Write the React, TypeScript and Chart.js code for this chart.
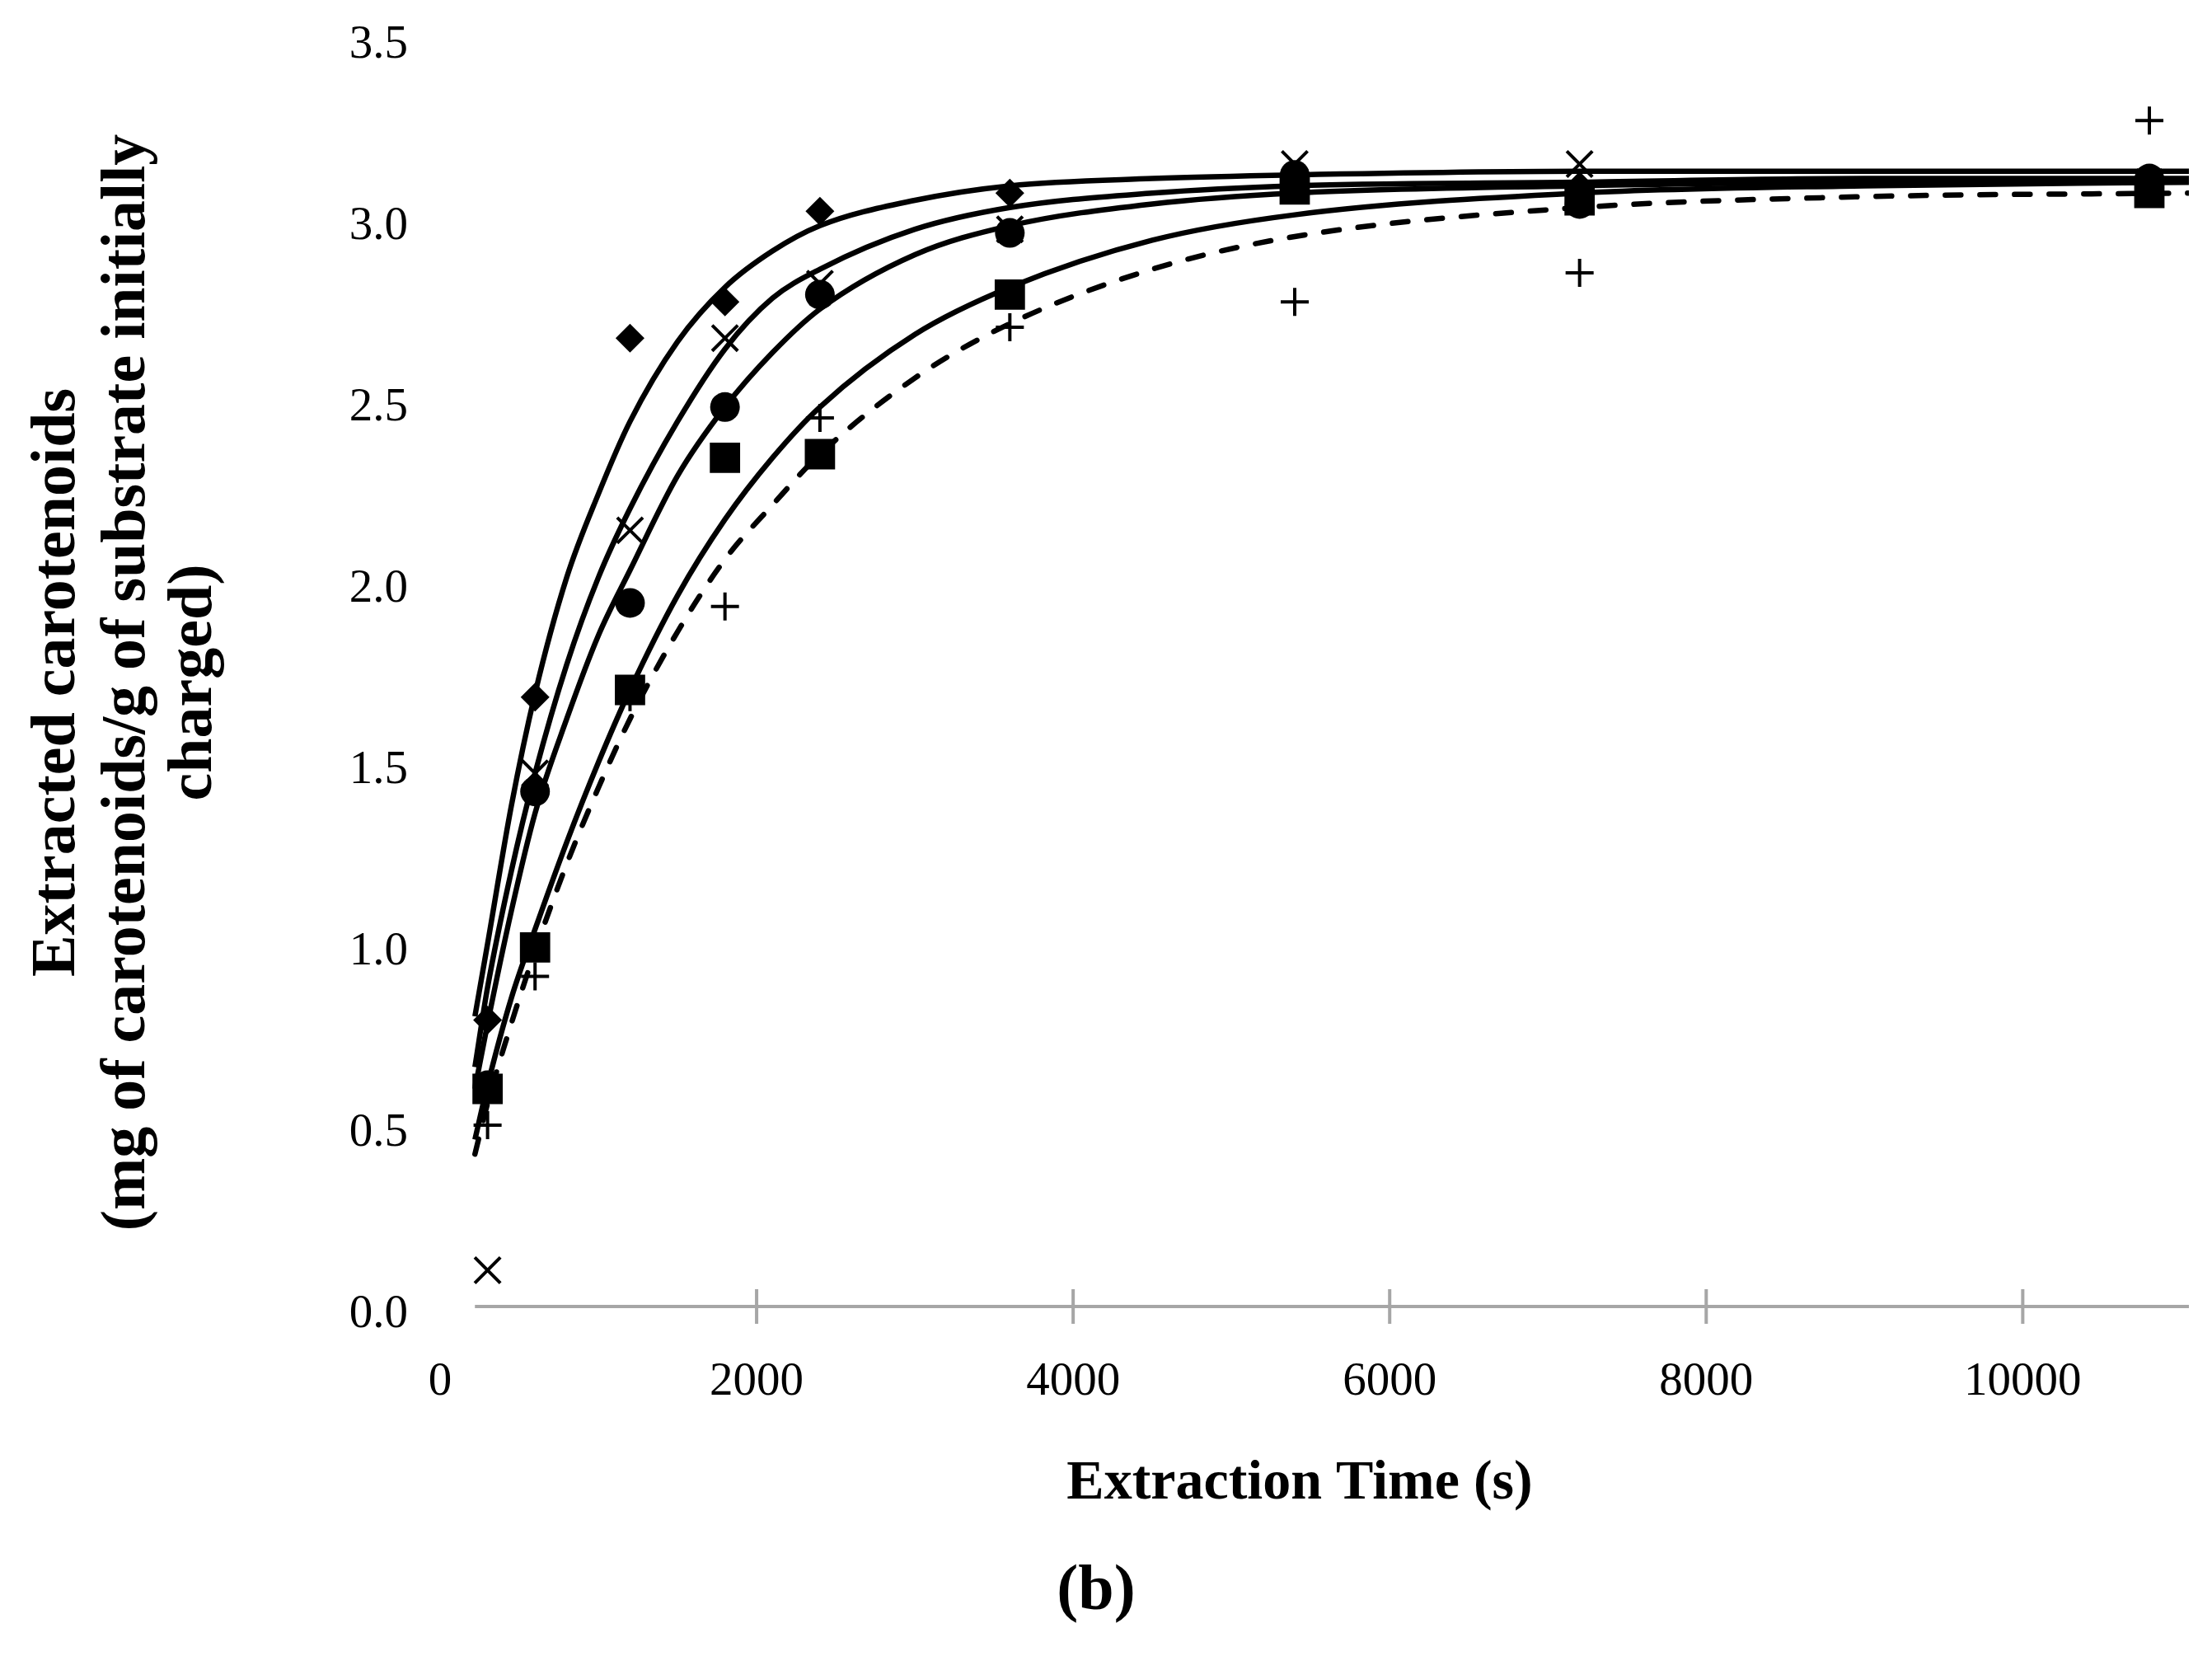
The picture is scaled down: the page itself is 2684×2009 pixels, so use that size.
import React, { useEffect, useRef } from 'react';
import { Chart, registerables } from 'chart.js';

Chart.register(...registerables);

// measured extraction times (s)
const sampleTimes = [300, 600, 1200, 1800, 2400, 3600, 5400, 7200, 10800];

// measured points, one list per marker
const diamondPoints = [0.79, 1.68, 2.67, 2.77, 3.02, 3.07, 3.12, 3.09, 3.11];
const crossPoints = [0.1, 1.47, 2.14, 2.67, 2.82, 2.97, 3.15, 3.15, 3.1];
const circlePoints = [0.61, 1.42, 1.94, 2.48, 2.79, 2.96, 3.12, 3.04, 3.11];
const squarePoints = [0.6, 0.99, 1.7, 2.34, 2.35, 2.79, 3.08, 3.05, 3.07];
const plusPoints = [0.5, 0.91, 1.68, 1.93, 2.45, 2.7, 2.77, 2.85, 3.27];

// fitted curves
const curveTimes = [220, 300, 450, 600, 800, 1000, 1200, 1500, 1800, 2100, 2400, 3000, 3600, 4500, 5400, 7200, 9000, 11050];
const diamondCurve = [0.8, 1.0, 1.38, 1.69, 2.01, 2.24, 2.44, 2.66, 2.81, 2.91, 2.98, 3.05, 3.09, 3.11, 3.12, 3.13, 3.13, 3.13];
const crossCurve = [0.66, 0.88, 1.2, 1.47, 1.77, 2.01, 2.2, 2.44, 2.64, 2.78, 2.86, 2.97, 3.03, 3.07, 3.09, 3.1, 3.11, 3.11];
const circleCurve = [0.6, 0.78, 1.09, 1.36, 1.62, 1.85, 2.03, 2.29, 2.48, 2.63, 2.75, 2.9, 2.98, 3.04, 3.07, 3.09, 3.1, 3.1];
const squareCurve = [0.46, 0.61, 0.85, 1.04, 1.28, 1.5, 1.7, 1.96, 2.17, 2.34, 2.48, 2.68, 2.81, 2.94, 3.01, 3.07, 3.09, 3.1];
const plusCurve = [0.42, 0.56, 0.78, 0.98, 1.22, 1.43, 1.62, 1.86, 2.06, 2.21, 2.35, 2.56, 2.71, 2.86, 2.95, 3.03, 3.06, 3.07];

const xTickValues = [0, 2000, 4000, 6000, 8000, 10000];

const yTitleLines = [
  'Extracted carotenoids',
  '(mg of carotenoids/g of substrate initially',
  'charged)',
];
const xTitle = 'Extraction Time (s)';
const panelLabel = '(b)';

const pts = (xs: number[], ys: number[]) => xs.map((x, i) => ({ x, y: ys[i] }));

const decorPlugin = {
  id: 'decor',
  beforeDatasetsDraw(chart: any) {
    const { ctx } = chart;
    const x = chart.scales.x;
    const y = chart.scales.y;
    const y0 = y.getPixelForValue(0);
    const xStart = x.getPixelForValue(curveTimes[0]);
    const xEnd = x.getPixelForValue(x.max);
    ctx.save();
    ctx.strokeStyle = '#a6a6a6';
    ctx.lineWidth = 4;
    ctx.beginPath();
    ctx.moveTo(xStart, y0);
    ctx.lineTo(xEnd, y0);
    xTickValues.forEach((t) => {
      if (t <= curveTimes[0]) return;
      const px = x.getPixelForValue(t);
      ctx.moveTo(px, y0 - 21);
      ctx.lineTo(px, y0 + 21);
    });
    ctx.stroke();
    ctx.restore();
  },
  afterDraw(chart: any) {
    const { ctx } = chart;
    ctx.save();
    ctx.fillStyle = '#000';
    ctx.textAlign = 'center';
    ctx.textBaseline = 'middle';
    ctx.font = 'bold 76px "Liberation Serif"';
    const lineX = [70, 155, 236];
    yTitleLines.forEach((line, i) => {
      ctx.save();
      ctx.translate(lineX[i], 828);
      ctx.rotate(-Math.PI / 2);
      ctx.fillText(line, 0, 0);
      ctx.restore();
    });
    ctx.font = 'bold 68px "Liberation Serif"';
    ctx.fillText(xTitle, 1577, 1800);
    ctx.font = 'bold 78px "Liberation Serif"';
    ctx.fillText(panelLabel, 1330, 1932);
    ctx.restore();
  },
};

const markerBase = { showLine: false, backgroundColor: '#000', borderColor: '#000' };
const curveBase = {
  showLine: true,
  pointRadius: 0,
  borderColor: '#000',
  borderWidth: 6.5,
  cubicInterpolationMode: 'monotone' as const,
  fill: false,
};

const App: React.FC = () => {
  const chartRef = useRef<HTMLCanvasElement>(null);
  const chartInstanceRef = useRef<Chart | null>(null);

  useEffect(() => {
    document.body.style.margin = '0';
    if (chartRef.current) {
      if (chartInstanceRef.current) {
        chartInstanceRef.current.destroy();
      }
      const ctx = chartRef.current.getContext('2d');
      if (ctx) {
        chartInstanceRef.current = new Chart(ctx, {
          type: 'scatter',
          data: {
            datasets: [
              { ...markerBase, label: 'diamond', data: pts(sampleTimes, diamondPoints), pointStyle: 'rectRot', pointRadius: 17.5, borderWidth: 0 },
              { ...markerBase, label: 'cross', data: pts(sampleTimes, crossPoints), pointStyle: 'crossRot', pointRadius: 22, borderWidth: 4 },
              { ...markerBase, label: 'circle', data: pts(sampleTimes, circlePoints), pointStyle: 'circle', pointRadius: 18, borderWidth: 0 },
              { ...markerBase, label: 'square', data: pts(sampleTimes, squarePoints), pointStyle: 'rect', pointRadius: 26, borderWidth: 0 },
              { ...markerBase, label: 'plus', data: pts(sampleTimes, plusPoints), pointStyle: 'cross', pointRadius: 17, borderWidth: 4 },
              { ...curveBase, label: 'fit diamond', data: pts(curveTimes, diamondCurve) },
              { ...curveBase, label: 'fit cross', data: pts(curveTimes, crossCurve) },
              { ...curveBase, label: 'fit circle', data: pts(curveTimes, circleCurve) },
              { ...curveBase, label: 'fit square', data: pts(curveTimes, squareCurve) },
              { ...curveBase, label: 'fit plus', data: pts(curveTimes, plusCurve), borderDash: [19, 23], borderCapStyle: 'round' },
            ] as any,
          },
          options: {
            animation: false,
            responsive: true,
            maintainAspectRatio: false,
            devicePixelRatio: 1,
            layout: { padding: { top: 45, right: 28, left: 0, bottom: 0 } },
            scales: {
              x: {
                type: 'linear',
                min: 0,
                max: 11050,
                grid: { display: false, drawTicks: false },
                border: { display: false },
                afterBuildTicks: (scale: any) => {
                  scale.ticks = xTickValues.map((value) => ({ value }));
                },
                afterFit: (scale: any) => {
                  scale.height = 424;
                },
                ticks: {
                  padding: 58,
                  maxRotation: 0,
                  autoSkip: false,
                  color: '#000',
                  font: { family: '"Liberation Serif"', size: 57 },
                  callback: (v: any) => String(v),
                },
              },
              y: {
                min: 0,
                max: 3.5,
                grid: { display: false, drawTicks: false },
                border: { display: false },
                afterFit: (scale: any) => {
                  scale.width = 534;
                  scale.paddingTop = 0;
                  scale.paddingBottom = 0;
                },
                ticks: {
                  stepSize: 0.5,
                  padding: 39,
                  labelOffset: 10,
                  color: '#000',
                  font: { family: '"Liberation Serif"', size: 57 },
                  callback: (v: any) => Number(v).toFixed(1),
                },
              },
            },
            plugins: {
              legend: { display: false },
              tooltip: { enabled: false },
            },
          },
          plugins: [decorPlugin],
        });
      }
    }
    return () => {
      if (chartInstanceRef.current) {
        chartInstanceRef.current.destroy();
        chartInstanceRef.current = null;
      }
    };
  }, []);

  return (
    <div style={{ width: '2684px', height: '2009px', position: 'relative', background: '#fff' }}>
      <canvas ref={chartRef}></canvas>
    </div>
  );
};

export default App;
